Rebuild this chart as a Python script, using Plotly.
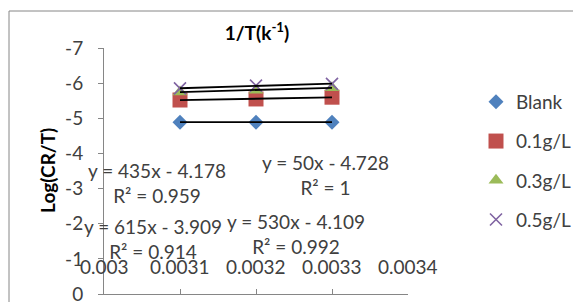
import numpy as np
import plotly.graph_objects as go

# ---- data ----
x_vals = [0.0031, 0.0032, 0.0033]
series_names = ["Blank", "0.1g/L", "0.3g/L", "0.5g/L"]
blank = [-4.89, -4.89, -4.89]
c01 = [-5.52, -5.55, -5.60]
c03 = [-5.75, -5.80, -5.87]
c05 = [-5.85, -5.93, -5.98]
x_ticks = [0.0030, 0.0031, 0.0032, 0.0033, 0.0034]
x_tick_labels = ["0.003", "0.0031", "0.0032", "0.0033", "0.0034"]
y_ticks = [0, -1, -2, -3, -4, -5, -6, -7]
y_tick_labels = ["0", "-1", "-2", "-3", "-4", "-5", "-6", "-7"]
eq_texts = ["y = 435x - 4.178<br>R² = 0.959",
            "y = 50x - 4.728<br>R² = 1",
            "y = 615x - 3.909<br>R² = 0.914",
            "y = 530x - 4.109<br>R² = 0.992"]

# page body has an 8px margin; work in window pixels and convert
OFF = 8
W, H = 581 - OFF, 302 - OFF
L, T = 104 - OFF, 48 - OFF
pw, ph = 304, 246
R = W - L - pw
B = H - T - ph

def px_x(p):
    return (p - OFF - L) / pw

def px_y(p):
    return (H - B - (p - OFF)) / ph

FONT = "Lato"
FS = 19
TXT = "#404040"

styles = [
    dict(symbol="diamond", size=11.5, color="#4F81BD"),
    dict(symbol="square", size=15, color="#C0504D"),
    dict(symbol="triangle-up", size=13, color="#9BBB59"),
    dict(symbol="x-thin", size=12, color="#8064A2"),
]
data = [blank, c01, c03, c05]

fig = go.Figure()
for i, (name, ys, st) in enumerate(zip(series_names, data, styles)):
    if st["symbol"] == "x-thin":
        marker = dict(symbol="x-thin", size=st["size"],
                      line=dict(color=st["color"], width=1.6), color=st["color"])
    else:
        marker = dict(symbol=st["symbol"], size=st["size"], color=st["color"],
                      line=dict(width=0))
    fig.add_trace(go.Scatter(x=x_vals, y=ys, mode="markers", name=name,
                             marker=marker, legendgroup=name, showlegend=True))

# linear trendlines fitted to each series
for name, ys in zip(series_names, data):
    k, b0 = np.polyfit(x_vals, ys, 1)
    xs = [min(x_vals), max(x_vals)]
    fig.add_trace(go.Scatter(x=xs, y=[k * v + b0 for v in xs], mode="lines",
                             line=dict(color="black", width=1.8),
                             showlegend=False, hoverinfo="skip"))

# equation label centres in window pixels
eq_centres = [(157, 182.5), (325, 175), (152.5, 238.5), (296, 234)]
annotations = []
for txt, (cx, cy) in zip(eq_texts, eq_centres):
    annotations.append(dict(x=px_x(cx), y=px_y(cy), xref="paper", yref="paper",
                            text=txt, showarrow=False, align="center",
                            xanchor="center", yanchor="middle",
                            font=dict(family=FONT, size=FS, color=TXT)))
for tv, tl in zip(x_ticks, x_tick_labels):
    annotations.append(dict(x=tv, y=px_y(266), xref="x", yref="paper", text=tl,
                            showarrow=False, yanchor="middle",
                            font=dict(family=FONT, size=FS, color=TXT)))
annotations.append(dict(x=px_x(47), y=px_y(171), xref="paper", yref="paper",
                        text="<b>Log(CR/T)</b>", textangle=-90, showarrow=False,
                        xanchor="center", yanchor="middle",
                        font=dict(family=FONT, size=FS, color="black")))

fig.update_layout(
    width=W, height=H,
    margin=dict(l=L, r=R, t=T, b=B, autoexpand=False),
    paper_bgcolor="white", plot_bgcolor="white",
    title=dict(text="<b>1/T(k<sup>-1</sup>)</b>", xref="paper", x=px_x(257),
               xanchor="center", yref="container",
               y=1 - (33 - OFF) / H, yanchor="middle",
               font=dict(family=FONT, size=FS, color="black")),
    xaxis=dict(range=[0.0030, 0.0034], tickvals=x_ticks, showticklabels=False,
               ticks="inside", ticklen=5, tickcolor="#868686",
               showline=True, linecolor="#868686", linewidth=1,
               showgrid=False, zeroline=False, automargin=False),
    yaxis=dict(range=[0, -7], tickvals=y_ticks, ticktext=y_tick_labels,
               ticks="outside", ticklen=5, tickcolor="#868686",
               showline=True, linecolor="#868686", linewidth=1,
               showgrid=False, zeroline=False, ticklabelstandoff=11,
               ticklabeloverflow="allow", automargin=False,
               tickfont=dict(family=FONT, size=FS, color=TXT)),
    legend=dict(x=px_x(476), xanchor="left", y=px_y(83), yanchor="top",
                tracegroupgap=11.5, font=dict(family=FONT, size=FS, color=TXT),
                bgcolor="rgba(0,0,0,0)"),
    annotations=annotations,
    shapes=[dict(type="rect", xref="paper", yref="paper",
                 x0=px_x(9), x1=px_x(590), y0=px_y(320), y1=px_y(11),
                 line=dict(color="#868686", width=1), layer="below")],
    showlegend=True,
)

fig.write_html("out.html")
